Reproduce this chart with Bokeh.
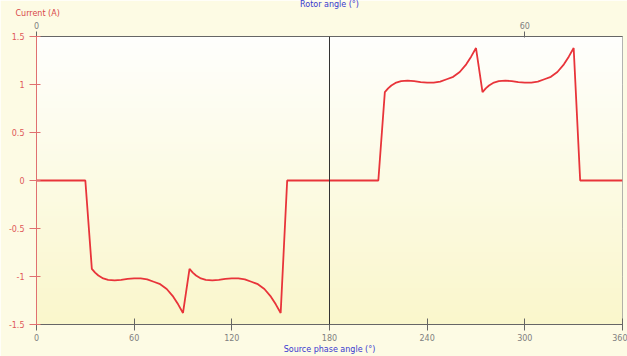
import numpy as np
from bokeh.plotting import figure
from bokeh.models import (Range1d, LinearAxis, FixedTicker, Span, Title,
                          CustomJSTickFormatter)
from bokeh.embed import file_html
from bokeh.resources import INLINE

# Source phase angle (deg) and line current (A) over one period
phase_deg = [0, 30, 34, 36, 38, 41, 44, 48, 52, 56, 60, 64, 68, 72, 76, 80, 84, 87, 90,
             94, 96, 98, 101, 104, 108, 112, 116, 120, 124, 128, 132, 136, 140, 144, 147, 150,
             154, 180, 210,
             214, 216, 218, 221, 224, 228, 232, 236, 240, 244, 248, 252, 256, 260, 264, 267, 270,
             274, 276, 278, 281, 284, 288, 292, 296, 300, 304, 308, 312, 316, 320, 324, 327, 330,
             334, 360]
current_a = [0, 0, -0.92, -0.96, -0.99, -1.02, -1.035, -1.04, -1.035, -1.025, -1.02, -1.02,
             -1.03, -1.055, -1.08, -1.13, -1.21, -1.29, -1.38,
             -0.92, -0.96, -0.99, -1.02, -1.035, -1.04, -1.035, -1.025, -1.02, -1.02,
             -1.03, -1.055, -1.08, -1.13, -1.21, -1.29, -1.38,
             0, 0, 0,
             0.92, 0.96, 0.99, 1.02, 1.035, 1.04, 1.035, 1.025, 1.02, 1.02,
             1.03, 1.055, 1.08, 1.13, 1.21, 1.29, 1.38,
             0.92, 0.96, 0.99, 1.02, 1.035, 1.04, 1.035, 1.025, 1.02, 1.02,
             1.03, 1.055, 1.08, 1.13, 1.21, 1.29, 1.38,
             0, 0]

x_ticks = [0, 60, 120, 180, 240, 300, 360]
y_ticks = [-1.5, -1, -0.5, 0, 0.5, 1, 1.5]
rotor_ticks = [0, 60]

FONT = "DejaVu Sans"
GRAY = "#808080"
AXIS_DARK = "#666666"
RED_TXT = "#e05858"
BLUE_TXT = "#3838d0"
CREAM = "#fdfbe4"

p = figure(width=627, height=356, output_backend="svg", toolbar_location=None, title=None,
           x_range=Range1d(0, 360), y_range=Range1d(-1.5, 1.5),
           min_border_left=36, min_border_right=5, min_border_top=36, min_border_bottom=32)
p.border_fill_color = CREAM
p.background_fill_color = "#fdfbe8"
p.outline_line_color = "#9a9a9a"
p.outline_line_width = 1

# vertical white-to-cream gradient behind the traces
rows = 120
t = np.linspace(0.0, 1.0, rows)[:, None]          # 0 = bottom, 1 = top
bottom_c = np.array([250, 247, 204])
top_c = np.array([255, 255, 253])
rgb = (bottom_c + (top_c - bottom_c) * t).astype(np.uint32)
img = np.zeros((rows, 1), dtype=np.uint32)
view = img.view(dtype=np.uint8).reshape((rows, 1, 4))
view[:, :, 0] = rgb[:, 0:1]
view[:, :, 1] = rgb[:, 1:2]
view[:, :, 2] = rgb[:, 2:3]
view[:, :, 3] = 255
p.image_rgba(image=[img], x=0, y=-1.5, dw=360, dh=3)

# grid
p.xgrid.ticker = FixedTicker(ticks=[60, 120, 240, 300])
p.ygrid.ticker = FixedTicker(ticks=[-1, -0.5, 0.5, 1])
for g in (p.xgrid, p.ygrid):
    g.grid_line_color = "#c4c4bc"
    g.grid_line_dash = "2 3"
    g.grid_line_width = 1

# bottom axis (source phase angle)
xa = p.xaxis[0]
xa.ticker = FixedTicker(ticks=x_ticks)
xa.axis_label = "Source phase angle (°)"
xa.axis_label_text_font = FONT
xa.axis_label_text_font_size = "8px"
xa.axis_label_text_font_style = "normal"
xa.axis_label_text_color = BLUE_TXT
xa.axis_label_standoff = 1
xa.axis_line_color = AXIS_DARK
xa.major_tick_line_color = AXIS_DARK
xa.major_tick_in = 6
xa.major_tick_out = 6
xa.minor_tick_line_color = None
xa.major_label_text_font = FONT
xa.major_label_text_font_size = "8px"
xa.major_label_text_color = GRAY
xa.major_label_standoff = 3

# left axis (current)
ya = p.yaxis[0]
ya.ticker = FixedTicker(ticks=y_ticks)
ya.formatter = CustomJSTickFormatter(code="return tick.toString();")
ya.axis_line_color = "#e07070"
ya.major_tick_line_color = "#e07070"
ya.major_tick_in = 4
ya.major_tick_out = 7
ya.minor_tick_line_color = None
ya.major_label_text_font = FONT
ya.major_label_text_font_size = "8px"
ya.major_label_text_color = RED_TXT
ya.major_label_standoff = 5

# top axis (rotor angle)
p.extra_x_ranges = {"rotor": Range1d(0, 72)}
ta = LinearAxis(x_range_name="rotor", ticker=FixedTicker(ticks=rotor_ticks))
ta.axis_line_color = AXIS_DARK
ta.major_tick_line_color = AXIS_DARK
ta.major_tick_in = 1
ta.major_tick_out = 5
ta.minor_tick_line_color = None
ta.major_label_text_font = FONT
ta.major_label_text_font_size = "8px"
ta.major_label_text_color = GRAY
ta.major_label_standoff = 3
p.add_layout(ta, "above")

# captions above the top axis: unit of the current (left) and rotor-angle name (centre);
# the second one overlaps the first row vertically since they sit far apart horizontally
p.add_layout(Title(text="Current (A)", align="left", offset=-21, standoff=1,
                   text_font=FONT, text_font_size="8px", text_font_style="normal",
                   text_color="#d84848"), "above")
p.add_layout(Title(text="Rotor angle (°)", align="center", standoff=-5,
                   text_font=FONT, text_font_size="8px", text_font_style="normal",
                   text_color=BLUE_TXT), "above")

# 180 degree marker
p.add_layout(Span(location=180, dimension="height", line_color="#333333", line_width=1))

p.line(phase_deg, current_a, line_color="#e8343a", line_width=1.8)

open("out.html", "w").write(file_html(p, INLINE))
